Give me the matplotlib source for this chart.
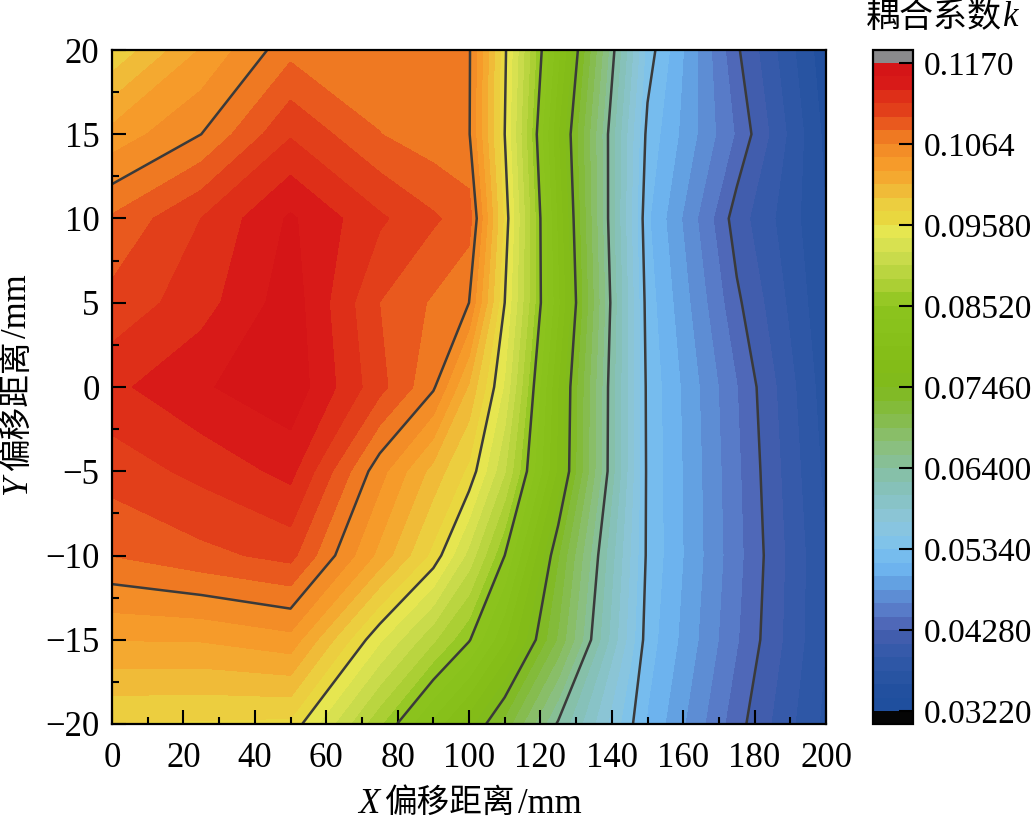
import numpy as np
import matplotlib
matplotlib.use("Agg")
import matplotlib.pyplot as plt
from matplotlib.colors import LinearSegmentedColormap
from matplotlib.ticker import MultipleLocator

# measurement grid, coupling coefficient k per Y row
x_mm = [0, 25, 50, 75, 90, 100, 110, 125, 150, 175, 200]
y_mm = [-20, -15, -10, -5, 0, 5, 10, 15, 20]
k_ym20 = [.0975, .0973, .0971, .0872, .0810, .0769, .0721, .0637, .0514, .0435, .0370]
k_ym15 = [.1029, .1030, .1040, .0943, .0890, .0854, .0800, .0707, .0525, .0447, .0375]
k_ym10 = [.1082, .1094, .1105, .1023, .0970, .0916, .0852, .0729, .0530, .0451, .0375]
k_ym5 = [.1107, .1122, .1140, .1053, .1004, .0971, .0906, .0776, .0530, .0449, .0370]
k_y0 = [.1130, .1150, .1165, .1105, .1067, .1008, .0937, .0780, .0529, .0446, .0365]
k_y5 = [.1105, .1127, .1162, .1099, .1079, .1064, .0958, .0801, .0525, .0432, .0360]
k_y10 = [.1084, .1117, .1155, .1120, .1102, .1090, .0970, .0793, .0519, .0419, .0357]
k_y15 = [.1035, .1064, .1115, .1082, .1071, .1066, .0958, .0781, .0528, .0443, .0352]
k_y20 = [.0978, .1030, .1076, .1072, .1069, .1067, .0962, .0803, .0544, .0431, .0345]

line_levels = [.0428, .0534, .0640, .0746, .0852, .0958, .1064]
cbar_ticks = [.0322, .0428, .0534, .0640, .0746, .0852, .0958, .1064, .1170]
cbar_labels = ["0.03220", "0.04280", "0.05340", "0.06400", "0.07460",
               "0.08520", "0.09580", "0.1064", "0.1170"]

# colour stops of the k scale
stop_vals = [.0322, .0350, .0370, .0392, .0410, .0428, .0445, .0463, .0481, .0500,
             .0534, .0570, .0605, .0640, .0675, .0710, .0746, .0780, .0852, .0887,
             .0922, .0949, .0966, .0984, .1002, .1020, .1038, .1055, .1073, .1090,
             .1108, .1126, .1144, .1170]
stop_cols = ["#1d4e9d", "#23509f", "#2a55a3", "#3158a8", "#3a5bab", "#4a5fb0", "#5470bf",
             "#5b85d0", "#5f96d8", "#68aeee", "#7cc2ee", "#8cc6db", "#86c2c0", "#86bfa0",
             "#8bbf74", "#84bb44", "#80ba1c", "#84bd17", "#8cc41e", "#b3d23a", "#cfde50",
             "#e6e650", "#e9d83f", "#ecd040", "#f0bb38", "#f4aa30", "#f69c2a", "#f38e27",
             "#ef7a22", "#ea5c1e", "#e2401a", "#de3018", "#d81a18", "#d31317"]

plt.rcParams["font.family"] = ["Liberation Serif", "Noto Sans CJK SC"]
plt.rcParams["font.size"] = 25
W, H = 1034, 821


def fx(px):
    return px / W


def fy(py):
    return 1 - py / H


fig = plt.figure(figsize=(W / 100, H / 100), dpi=100)
ax = fig.add_axes([fx(112), fy(724), fx(826 - 112), (724 - 50) / H])
cax = fig.add_axes([fx(873), fy(724), fx(913 - 873), (724 - 50) / H])

lo, hi = stop_vals[0], stop_vals[-1]
cmap = LinearSegmentedColormap.from_list(
    "k_scale", [((v - lo) / (hi - lo), c) for v, c in zip(stop_vals, stop_cols)], N=512)
cmap.set_under("#050505")
cmap.set_over("#8a8a8c")

k = np.array([k_ym20, k_ym15, k_ym10, k_ym5, k_y0, k_y5, k_y10, k_y15, k_y20])
levels = np.linspace(.0322, .1170, 49)
cf = ax.contourf(x_mm, y_mm, k, levels=levels, cmap=cmap, extend="both")
cf.set_edgecolor("face")
cf.set_linewidth(0.3)
ax.contour(x_mm, y_mm, k, levels=line_levels, colors="#3a3a3a", linewidths=1.8)

ax.set_xlim(0, 200)
ax.set_ylim(-20, 20)
ax.xaxis.set_major_locator(MultipleLocator(20))
ax.xaxis.set_minor_locator(MultipleLocator(10))
ax.yaxis.set_major_locator(MultipleLocator(5))
ax.yaxis.set_minor_locator(MultipleLocator(2.5))
ax.tick_params(which="major", direction="in", length=10, width=1.5, zorder=5)
ax.tick_params(which="minor", direction="in", length=5, width=1.5)
ax.tick_params(axis="x", which="major", pad=13)
ax.tick_params(axis="y", which="major", pad=9)
for s in ax.spines.values():
    s.set_linewidth(1.6)
    s.set_zorder(6)

cb = fig.colorbar(cf, cax=cax, extend="both", extendrect=True, extendfrac=0.02)
cb.set_ticks(cbar_ticks, labels=cbar_labels)
cb.minorticks_off()
cax.tick_params(direction="in", length=10, width=1.5, pad=8, right=True, labelsize=24)
cb.outline.set_linewidth(1.6)

# axis captions are built from pieces so X, Y and k can be italic
fig.text(fx(358), fy(804), "X", style="italic", va="center", ha="left", fontsize=25)
fig.text(fx(384), fy(804), "偏移距离", va="center", ha="left", fontsize=23.5)
fig.text(fx(518), fy(804), "/mm", va="center", ha="left", fontsize=25)

fig.text(fx(18), fy(495), "Y", style="italic", rotation=90, va="bottom", ha="center", fontsize=25)
fig.text(fx(18), fy(471), "偏移距离", rotation=90, va="bottom", ha="center", fontsize=23.5)
fig.text(fx(18), fy(338), "/mm", rotation=90, va="bottom", ha="center", fontsize=25)

fig.text(fx(866), fy(18), "耦合系数", va="center", ha="left", fontsize=24.5)
fig.text(fx(1003), fy(18), "k", style="italic", va="center", ha="left", fontsize=25)

fig.savefig("out.png", dpi=100)
plt.close(fig)
